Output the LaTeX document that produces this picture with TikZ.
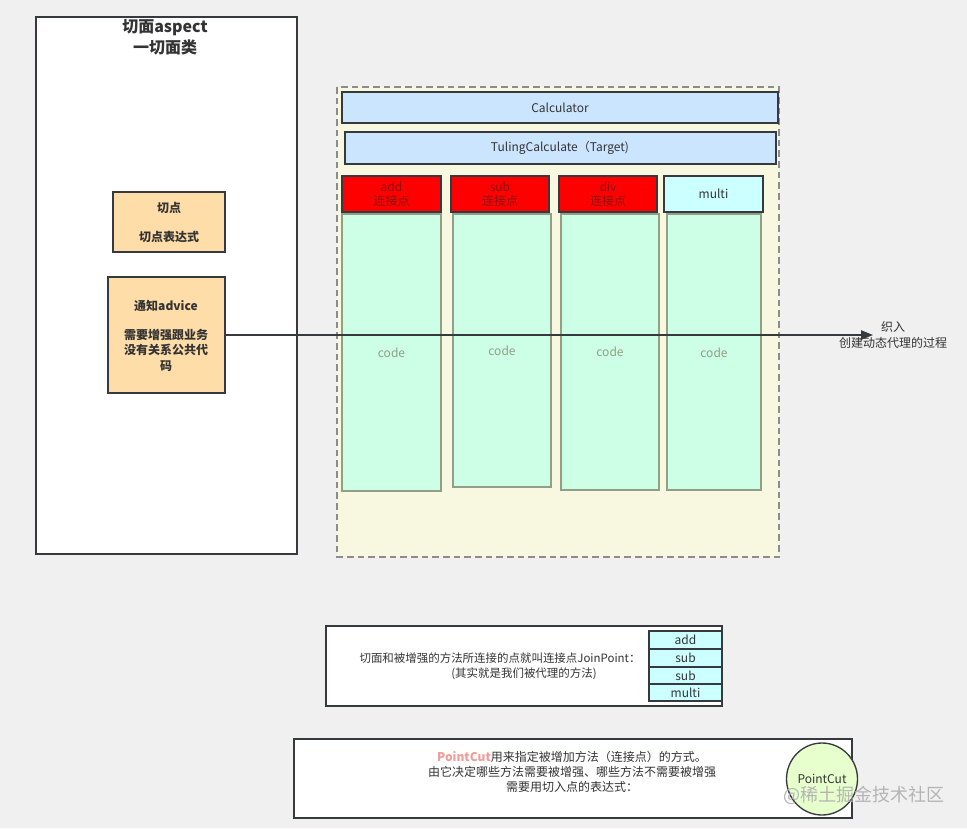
\documentclass[tikz,border=0pt]{standalone}
\usepackage{fontspec}
\setmainfont{Noto Sans CJK SC}
\usetikzlibrary{arrows.meta}
\definecolor{bg}{HTML}{F0F0F0}
\definecolor{ink}{HTML}{333333}
\definecolor{frame}{HTML}{36393D}
\definecolor{contfill}{HTML}{F8F7DF}
\definecolor{contline}{HTML}{8C8C8C}
\definecolor{bluefill}{HTML}{CCE5FF}
\definecolor{cyanfill}{HTML}{CCFFFF}
\definecolor{codefill}{HTML}{CCFFE6}
\definecolor{codeline}{HTML}{939E86}
\definecolor{peach}{HTML}{FFDDA8}
\definecolor{lime}{HTML}{E6FFCC}
\definecolor{pink}{HTML}{F19C99}
\definecolor{darkred}{HTML}{8F1010}
\definecolor{mark}{HTML}{B4B4B4}
\tikzset{
  box/.style={draw=frame, line width=1pt},
  bluebox/.style={box, fill=bluefill},
  redbox/.style={box, fill=red},
  cyanbox/.style={box, fill=cyanfill},
  codebox/.style={draw=codeline, line width=1pt, fill=codefill},
  peachbox/.style={box, fill=peach},
  txt/.style={text=ink, font=\fontsize{9}{11.5}\selectfont, inner sep=0pt, align=center},
  redtxt/.style={text=darkred, font=\fontsize{9}{10.5}\selectfont, inner sep=0pt, align=center},
  codetxt/.style={text=codeline, font=\fontsize{9}{11}\selectfont, inner sep=0pt},
}
\begin{document}
\begin{tikzpicture}[x=0.75pt,y=-0.75pt]
\fill[bg] (0,0) rectangle (967,828);
\useasboundingbox (0,0) rectangle (967,828);

% aspect box
\draw[box, fill=white] (36,17) rectangle (297,554);
\node[txt, font=\bfseries\fontsize{12}{16}\selectfont] (title) at (165,37) {切面aspect\\一切面类};
\draw[peachbox] (113,192) rectangle (225,252);
\node[txt, font=\bfseries\fontsize{9}{11.5}\selectfont] (pc) at (169,222.5) {切点\\[1.2em]切点表达式};
\draw[peachbox] (108,277) rectangle (225,393);
\coordinate (advE) at (225,335);
\node[txt, font=\bfseries\fontsize{9}{11.5}\selectfont] (adv) at (166,336) {通知advice\\[1.1em]需要增强跟业务\\没有关系公共代\\码};

% container
\draw[contline, line width=1pt, fill=contfill, dash pattern=on 5pt off 3pt] (337,87) rectangle (779,557);
\draw[bluebox] (342,92) rectangle (778,123);
\node[txt] (calc) at (560,107.5) {Calculator};
\draw[bluebox] (345,132) rectangle (776,164);
\node[txt] (tul) at (560,148) {TulingCalculate（Target)};

\draw[redbox] (342,176) rectangle (441,212);
\node[redtxt] (add) at (391.5,194.5) {add\\连接点};
\draw[redbox] (451,176) rectangle (549,212);
\node[redtxt] (sub) at (500,194.5) {sub\\连接点};
\draw[redbox] (559,176) rectangle (657,212);
\node[redtxt] (div) at (608,194.5) {div\\连接点};
\draw[cyanbox] (664,176) rectangle (763,212);
\node[txt] (multi) at (713.5,194) {multi};

\draw[codebox] (342,214) rectangle (441,491);
\node[codetxt] (c1) at (391.5,353) {code};
\draw[codebox] (453,214) rectangle (551,487);
\node[codetxt] (c2) at (502,351) {code};
\draw[codebox] (561,214) rectangle (659,490);
\node[codetxt] (c3) at (610,352) {code};
\draw[codebox] (667,214) rectangle (761,490);
\node[codetxt] (c4) at (714,353) {code};

% weaving arrow
\coordinate (tip) at (873,335);
\draw[frame, line width=1pt, -{Stealth[length=9pt,width=7pt,inset=0pt]}] (advE) -- (tip);
\node[txt] (weave) at (893,335) {织入\\创建动态代理的过程};

% JoinPoint box
\draw[box, fill=white] (326,626) rectangle (722,706);
\node[txt, font=\fontsize{8.6}{11}\selectfont] (jp1) at (500,658) {切面和被增强的方法所连接的点就叫连接点JoinPoint：};
\node[txt, font=\fontsize{8.6}{11}\selectfont] (jp2) at (524,674) {(其实就是我们被代理的方法)};
\draw[cyanbox] (649,631) rectangle (722,649);
\node[txt] (l1) at (685.5,640) {add};
\draw[cyanbox] (649,649) rectangle (722,667);
\node[txt] (l2) at (685.5,658) {sub};
\draw[cyanbox] (649,667) rectangle (722,684);
\node[txt] (l3) at (685.5,675.5) {sub};
\draw[cyanbox] (649,684) rectangle (722,701);
\node[txt] (l4) at (685.5,692.5) {multi};

% PointCut box
\draw[box, fill=white] (294,739) rectangle (852,818);
\node[txt] (ptxt) at (572,772) {{\bfseries\color{pink}PointCut}用来指定被增加方法（连接点）的方式。\\由它决定哪些方法需要被增强、哪些方法不需要被增强\\需要用切入点的表达式：};
\draw[box, fill=lime] (822,779) ellipse [x radius=35.5, y radius=36];
\node[txt] (pcut) at (822,779) {PointCut};
\node[text=mark, font=\fontsize{13.5}{15}\selectfont, inner sep=0pt] (wm) at (864,795) {@稀土掘金技术社区};
\end{tikzpicture}
\end{document}
